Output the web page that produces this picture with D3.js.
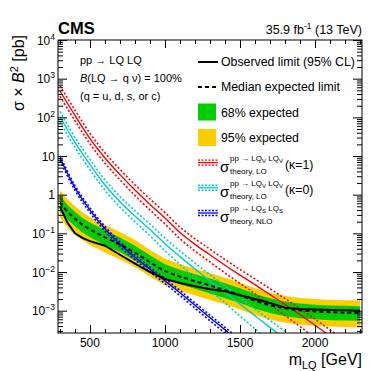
<!DOCTYPE html>
<html>
<head>
<meta charset="utf-8">
<script src="https://cdn.jsdelivr.net/npm/d3@7"></script>
<style>
  body { margin: 0; background: #fff; }
  text { font-family: "Liberation Sans", Arial, Helvetica, sans-serif; fill: #000; }
</style>
</head>
<body>
<div id="chart"></div>
<script>
// ---- limit curves (sigma x B^2 in pb) ----
var limMass  = [300,350,400,450,500,600,700,800,900,1000,1100,1200,1300,1400,1500,1600,1700,1800,1900,2000,2100,2200,2300];
var observed = [0.49,0.19,0.100,0.076,0.063,0.048,0.028,0.0166,0.0100,0.0066,0.0052,0.0043,0.0036,0.0032,0.0025,0.0020,0.00158,0.0012,0.0011,0.00107,0.00105,0.00102,0.00100];
var expected = [0.63,0.36,0.24,0.166,0.126,0.079,0.052,0.032,0.0178,0.0105,0.0076,0.0058,0.0045,0.0034,0.0025,0.0018,0.00138,0.00115,0.00102,0.00095,0.00091,0.00089,0.00087];
var exp68Hi  = [0.95,0.54,0.36,0.25,0.19,0.12,0.078,0.048,0.027,0.0158,0.0114,0.0087,0.0068,0.0051,0.0038,0.0027,0.0021,0.00173,0.00153,0.00143,0.00137,0.00134,0.00131];
var exp68Lo  = [0.38,0.23,0.151,0.105,0.079,0.050,0.033,0.020,0.0112,0.0066,0.0048,0.0037,0.0028,0.0021,0.00158,0.00113,0.00087,0.00072,0.00064,0.0006,0.00057,0.00056,0.00055];
var exp95Hi  = [1.3,0.76,0.5,0.35,0.26,0.166,0.109,0.067,0.037,0.022,0.016,0.0122,0.0095,0.0071,0.0053,0.0038,0.0029,0.0024,0.00214,0.002,0.0019,0.00187,0.00183];
var exp95Lo  = [0.26,0.14,0.09,0.066,0.05,0.032,0.021,0.0135,0.0077,0.0045,0.0033,0.0025,0.0019,0.00146,0.00108,0.00077,0.00059,0.00049,0.00044,0.00041,0.00039,0.00038,0.00037];

// ---- theory cross sections (pb) and their uncertainty in percent ----
var vecK1Mass = [300,400,500,600,700,800,900,1000,1100,1200,1300,1400,1500,1600,1700,1800,1900,2000,2100,2200];
var vecK1Xsec = [480,112,28.2,8.9,3.3,1.32,0.56,0.25,0.105,0.052,0.028,0.015,0.0083,0.0047,0.0026,0.00145,0.00079,0.00042,0.00022,0.000112];
var vecK1Up   = [37,37,37,37,37,37,38,38,38,39,39,40,40,41,42,42,43,44,45,46];
var vecK1Dn   = [27,27,27,27,27,28,29,30,31,33,35,37,39,42,45,48,51,54,57,59];

var vecK0Mass = [300,400,500,600,700,800,900,1000,1100,1200,1300,1400,1500,1600,1700,1800];
var vecK0Up   = [35,35,35,35,36,37,38,39,40,42,44,46,48,50,53,56];
var vecK0Xsec = [105,22.4,6.0,1.78,0.66,0.28,0.126,0.054,0.025,0.012,0.0059,0.0030,0.00148,0.00074,0.00037,0.000186];
var vecK0Dn   = [26,26,26,27,28,29,31,34,37,40,43,47,51,54,57,60];

var scalMass = [300,400,500,600,700,800,900,1000,1100,1200,1300,1400,1500];
var scalXsec = [8.9,1.51,0.40,0.132,0.052,0.024,0.0117,0.0059,0.0029,0.00138,0.00066,0.00032,0.000151];
var scalUp   = [14,14,14,14,14,14,14,15,15,15,16,16,17];
var scalDn   = [14,14,14,14,14,14,14,15,15,16,17,18,19];

// ---- ticks ----
var xMajor = [500,1000,1500,2000];
var xMinor = [300,400,600,700,800,900,1100,1200,1300,1400,1600,1700,1800,1900,2100,2200,2300];
var yMajorExp = [-3,-2,-1,0,1,2,3,4];

var margin = {top: 40, right: 20, bottom: 38, left: 58},
    width = 382 - margin.left - margin.right,
    height = 371 - margin.top - margin.bottom;

var svg = d3.select("#chart").append("svg")
    .attr("width", 382).attr("height", 371);
var g = svg.append("g")
    .attr("transform", "translate(" + margin.left + "," + margin.top + ")");

var x = d3.scaleLinear().domain([287, 2313]).range([0, width]);
var y = d3.scaleLog().domain([2.65e-4, 1e4]).range([height, 0]);

g.append("clipPath").attr("id", "clip")
  .append("rect").attr("width", width).attr("height", height);
var plot = g.append("g").attr("clip-path", "url(#clip)");

// expected bands
function band(lo, hi) {
  return d3.area()
    .x(function(d, i) { return x(limMass[i]); })
    .y0(function(d, i) { return y(lo[i]); })
    .y1(function(d, i) { return y(hi[i]); });
}
plot.append("path").datum(limMass).attr("d", band(exp95Lo, exp95Hi)).attr("fill", "#ffcc00");
plot.append("path").datum(limMass).attr("d", band(exp68Lo, exp68Hi)).attr("fill", "#00cc00");

// theory curves: solid central + dotted up/down
function theory(mass, xs, up, dn, color) {
  var line = function(k) {
    return d3.line().curve(d3.curveMonotoneX)
      .x(function(d, i) { return x(mass[i]); })
      .y(function(d, i) { return y(xs[i] * (1 + k * (k > 0 ? up[i] : dn[i]) / 100)); });
  };
  [-1, 1].forEach(function(k) {
    plot.append("path").datum(mass).attr("d", line(k))
      .attr("fill", "none").attr("stroke", color).attr("stroke-width", 1.6)
      .attr("stroke-dasharray", "2,2");
  });
  plot.append("path").datum(mass).attr("d", line(0))
    .attr("fill", "none").attr("stroke", color).attr("stroke-width", 1.4);
}
theory(vecK1Mass, vecK1Xsec, vecK1Up, vecK1Dn, "#ff0000");
theory(vecK0Mass, vecK0Xsec, vecK0Up, vecK0Dn, "#00cccc");
theory(scalMass, scalXsec, scalUp, scalDn, "#0000ff");

// expected & observed limits
var limLine = function(vals) {
  return d3.line().x(function(d, i) { return x(limMass[i]); })
    .y(function(d, i) { return y(vals[i]); });
};
plot.append("path").datum(limMass).attr("d", limLine(expected))
  .attr("fill", "none").attr("stroke", "#000").attr("stroke-width", 2)
  .attr("stroke-dasharray", "4,3");
plot.append("path").datum(limMass).attr("d", limLine(observed))
  .attr("fill", "none").attr("stroke", "#000").attr("stroke-width", 2);

// ---- axes, ROOT style: ticks inside on all four sides ----
var yMinor = [];
yMajorExp.concat([-4]).forEach(function(e) {
  for (var k = 2; k < 10; k++) {
    var v = k * Math.pow(10, e);
    if (v > 2.65e-4 && v < 1e4) yMinor.push(v);
  }
});
var yMajor = yMajorExp.map(function(e) { return Math.pow(10, e); });

function ticks(axis, vals, size, transform) {
  var a = g.append("g").attr("transform", transform || null)
    .call(axis.tickValues(vals).tickSize(size).tickFormat(""));
  a.select(".domain").remove();
  a.selectAll("line").attr("stroke", "#000");
}
ticks(d3.axisBottom(x), xMajor, -8, "translate(0," + height + ")");
ticks(d3.axisBottom(x), xMinor, -4, "translate(0," + height + ")");
ticks(d3.axisTop(x), xMajor, -8);
ticks(d3.axisTop(x), xMinor, -4);
ticks(d3.axisLeft(y), yMajor, -9);
ticks(d3.axisLeft(y), yMinor, -5);
ticks(d3.axisRight(y), yMajor, -9, "translate(" + width + ",0)");
ticks(d3.axisRight(y), yMinor, -5, "translate(" + width + ",0)");

g.append("rect").attr("width", width).attr("height", height)
  .attr("fill", "none").attr("stroke", "#000").attr("stroke-width", 1);

// x tick labels
g.selectAll(".xl").data(xMajor).enter().append("text")
  .attr("x", function(d) { return x(d); }).attr("y", height + 14)
  .attr("text-anchor", "middle").style("font-size", "12px").text(function(d) { return d; });

// y tick labels: 10^n
yMajorExp.forEach(function(e) {
  var t = g.append("text").attr("x", -3).attr("y", y(Math.pow(10, e)) + 4.5)
    .attr("text-anchor", "end").style("font-size", "12px");
  if (e === 0) { t.text("1"); return; }
  t.append("tspan").text("10");
  if (e !== 1) {
    t.append("tspan").attr("dy", -5).style("font-size", "8.5px")
      .text(e < 0 ? "\u2212" + (-e) : e);
  }
});

// axis titles
var yt = svg.append("text").attr("transform", "translate(23.5,35) rotate(-90)")
  .attr("text-anchor", "end").style("font-size", "16px");
yt.append("tspan").text("\u03c3 \u00d7 ");
yt.append("tspan").style("font-style", "italic").text("B");
yt.append("tspan").attr("dy", -6).style("font-size", "11px").text("2");
yt.append("tspan").attr("dy", 6).text(" [pb]");

var xt = svg.append("text").attr("x", 362).attr("y", 365)
  .attr("text-anchor", "end").style("font-size", "16px");
xt.append("tspan").text("m");
xt.append("tspan").attr("dy", 4).style("font-size", "11px").text("LQ");
xt.append("tspan").attr("dy", -4).text(" [GeV]");

// header
svg.append("text").attr("x", 58).attr("y", 33.5)
  .style("font-size", "16.5px").style("font-weight", "bold").text("CMS");
var lumi = svg.append("text").attr("x", 362).attr("y", 34)
  .attr("text-anchor", "end").style("font-size", "12.5px");
lumi.append("tspan").text("35.9 fb");
lumi.append("tspan").attr("dy", -5).style("font-size", "8.5px").text("-1");
lumi.append("tspan").attr("dy", 5).text(" (13 TeV)");

// process text
svg.append("text").attr("x", 80).attr("y", 64).style("font-size", "11px").text("pp \u2192 LQ LQ");
var br = svg.append("text").attr("x", 80).attr("y", 82).style("font-size", "11px");
br.append("tspan").style("font-style", "italic").text("B");
br.append("tspan").text("(LQ \u2192 q \u03bd) = 100%");
svg.append("text").attr("x", 80).attr("y", 99.5).style("font-size", "11px").text("(q = u, d, s, or c)");

// ---- legend ----
var lg = svg.append("g");
var lx0 = 198, lx1 = 218, tx = 221;
lg.append("line").attr("x1", lx0).attr("x2", lx1).attr("y1", 62).attr("y2", 62)
  .attr("stroke", "#000").attr("stroke-width", 2);
lg.append("text").attr("x", tx).attr("y", 66).style("font-size", "12.3px").text("Observed limit (95% CL)");
lg.append("line").attr("x1", lx0).attr("x2", lx1).attr("y1", 87).attr("y2", 87)
  .attr("stroke", "#000").attr("stroke-width", 2).attr("stroke-dasharray", "4,3");
lg.append("text").attr("x", tx).attr("y", 91).style("font-size", "12.3px").text("Median expected limit");
lg.append("rect").attr("x", lx0).attr("y", 103.5).attr("width", 18).attr("height", 17).attr("fill", "#00cc00");
lg.append("text").attr("x", tx).attr("y", 116.5).style("font-size", "12.3px").text("68% expected");
lg.append("rect").attr("x", lx0).attr("y", 129).attr("width", 18).attr("height", 17).attr("fill", "#ffcc00");
lg.append("text").attr("x", tx).attr("y", 141.5).style("font-size", "12.3px").text("95% expected");

function theoryEntry(cy, color, sub, subLabel, kappa) {
  [-2.5, 2.5].forEach(function(o) {
    lg.append("line").attr("x1", lx0).attr("x2", lx1).attr("y1", cy + o).attr("y2", cy + o)
      .attr("stroke", color).attr("stroke-width", 1.4).attr("stroke-dasharray", "2,1.5");
  });
  lg.append("line").attr("x1", lx0).attr("x2", lx1).attr("y1", cy).attr("y2", cy)
    .attr("stroke", color).attr("stroke-width", 1.3);
  lg.append("text").attr("x", 220).attr("y", cy + 9).style("font-size", "15px").text("\u03c3");
  var sp = lg.append("text").attr("x", 230).attr("y", cy - 2).style("font-size", "8px");
  sp.append("tspan").text("pp \u2192 LQ");
  sp.append("tspan").attr("dy", 2).style("font-size", "6px").text(sub);
  sp.append("tspan").attr("dy", -2).text(" LQ");
  sp.append("tspan").attr("dy", 2).style("font-size", "6px").text(sub);
  lg.append("text").attr("x", 230).attr("y", cy + 11).style("font-size", "8px").text(subLabel);
  if (kappa) {
    lg.append("text").attr("x", 285).attr("y", cy + 6.5).style("font-size", "12.3px").text(kappa);
  }
}
theoryEntry(162.6, "#ff0000", "V", "theory, LO", "(\u03ba=1)");
theoryEntry(187.8, "#00cccc", "V", "theory, LO", "(\u03ba=0)");
theoryEntry(213, "#0000ff", "S", "theory, NLO", null);
</script>
</body>
</html>
